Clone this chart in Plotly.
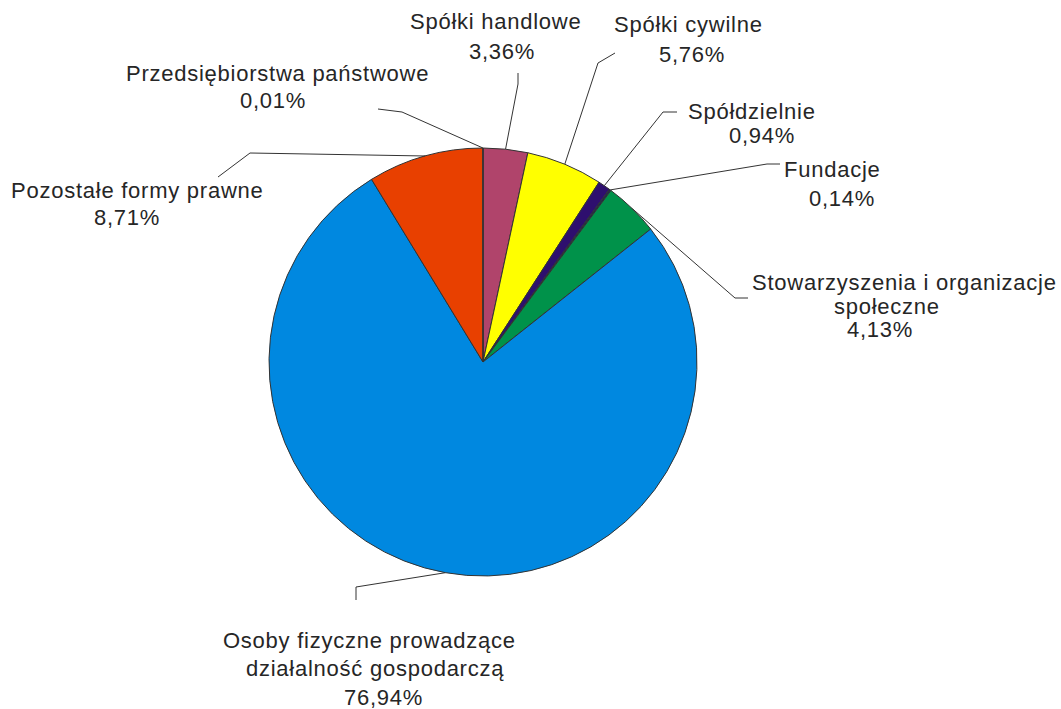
import math
import plotly.graph_objects as go

# ---- data ----
categories = [
    "Spółki handlowe",
    "Spółki cywilne",
    "Spółdzielnie",
    "Fundacje",
    "Stowarzyszenia i organizacje|społeczne",
    "Osoby fizyczne prowadzące|działalność gospodarczą",
    "Pozostałe formy prawne",
    "Przedsiębiorstwa państwowe",
]
shares = [3.36, 5.76, 0.94, 0.14, 4.13, 76.94, 8.71, 0.01]
colors = ["#B0446B", "#FFFF00", "#2E0F6E", "#1E2A50", "#00924A", "#0088E0", "#E84000", "#7F7F7F"]

# ---- layout constants (pixels) ----
W, H = 1061, 709
CX, CY, R = 483, 362, 214
FONT = dict(family="Liberation Sans, Arial, sans-serif", size=22, color="#262626")
SPACING = "letter-spacing:0.75px"

# label line centres (x, y) for each name line followed by the percentage line
label_pos = [
    [(495, 22), (502, 51)],
    [(688, 25), (692, 55)],
    [(752, 112), (762, 135)],
    [(832, 170), (842, 198)],
    [(904, 282), (887, 306), (880, 330)],
    [(369, 640), (375, 668), (383, 697)],
    [(137, 190), (127, 218)],
    [(277, 73), (273, 100)],
]
# leader line elbow and end points
leader = [
    [(518, 84), (518, 73)],
    [(598, 63), (615, 53)],
    [(663, 112), (677, 112)],
    [(767, 164), (780, 164)],
    [(735, 298), (748, 298)],
    [(356, 587), (356, 600)],
    [(250, 153), (218, 177)],
    [(402, 112), (378, 109)],
]


def px(x, y):
    return x / W, 1 - y / H


names = [c.replace("|", " ") for c in categories]
pct_text = [f"{v:.2f}".replace(".", ",") + "%" for v in shares]

fig = go.Figure(go.Pie(
    labels=names,
    values=shares,
    sort=False,
    direction="clockwise",
    rotation=0,
    textinfo="none",
    marker=dict(colors=colors, line=dict(color="#333333", width=1)),
    domain=dict(x=[(CX - R) / W, (CX + R) / W], y=[1 - (CY + R) / H, 1 - (CY - R) / H]),
    showlegend=False,
    hovertemplate="%{label}: %{value}%<extra></extra>",
))

total = sum(shares)
annotations = []
shapes = []
cum = 0.0
for i, (cat, v) in enumerate(zip(categories, shares)):
    mid = (cum + v / 2) / total * 2 * math.pi
    cum += v
    sx = CX + R * math.sin(mid)
    sy = CY - R * math.cos(mid)
    (ex, ey), (fx, fy) = leader[i]
    p0, p1, p2 = px(sx, sy), px(ex, ey), px(fx, fy)
    shapes.append(dict(
        type="path", xref="paper", yref="paper",
        path=f"M {p0[0]} {p0[1]} L {p1[0]} {p1[1]} L {p2[0]} {p2[1]}",
        line=dict(color="#333333", width=1),
    ))
    lines = cat.split("|") + [pct_text[i]]
    for text, (lx, ly) in zip(lines, label_pos[i]):
        x, y = px(lx, ly)
        annotations.append(dict(
            x=x, y=y, xref="paper", yref="paper",
            text=f'<span style="{SPACING}">{text}</span>', showarrow=False,
            xanchor="center", yanchor="middle", font=FONT,
        ))

fig.update_layout(
    width=W, height=H,
    margin=dict(l=0, r=0, t=0, b=0),
    paper_bgcolor="white",
    plot_bgcolor="white",
    annotations=annotations,
    shapes=shapes,
)

fig.write_html(
    "out.html",
    config={"displayModeBar": False},
    post_script="document.body.style.margin='0';",
)
